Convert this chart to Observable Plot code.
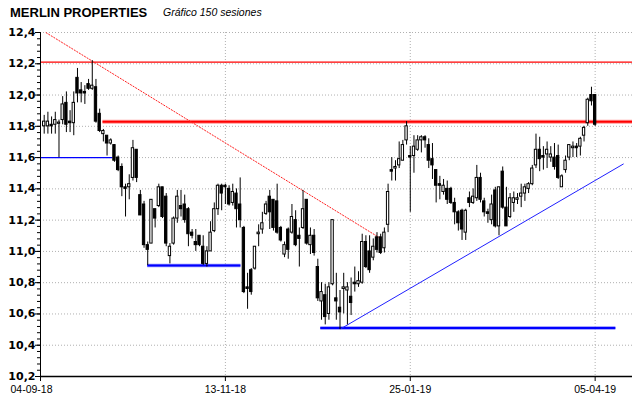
<!DOCTYPE html>
<html>
<head>
<meta charset="utf-8">
<script src="https://cdn.jsdelivr.net/npm/d3@7"></script>
<script src="https://cdn.jsdelivr.net/npm/@observablehq/plot@0.6"></script>
<style>
  html, body { margin: 0; padding: 0; background: #fff; }
  #chart { width: 640px; height: 398px; }
</style>
</head>
<body>
<div id="chart"></div>
<script>
// ---- data: 150 sessions (index 1..150) ----
const opens = [11.80,11.80,11.81,11.81,11.82,11.84,11.95,11.83,11.82,12.11,
12.03,12.02,12.07,12.04,12.05,11.88,11.75,11.74,11.69,11.68,
11.60,11.54,11.41,11.41,11.47,11.65,11.36,11.30,11.04,11.05,
11.27,11.29,11.41,11.35,10.97,11.05,11.21,11.29,11.30,11.27,
11.12,11.06,11.10,11.03,10.92,11.00,11.13,11.27,11.42,11.42,
11.40,11.31,11.37,11.30,11.15,10.77,10.88,10.89,11.11,11.14,
11.24,11.35,11.33,11.32,11.15,10.98,11.14,11.12,11.20,11.10,
11.15,11.33,11.04,11.10,10.90,10.68,10.72,10.60,10.79,10.70,
10.64,10.76,10.75,10.71,10.80,10.79,10.80,11.06,11.00,10.96,
11.09,11.09,11.02,11.17,11.52,11.53,11.55,11.58,11.71,11.61,
11.61,11.65,11.71,11.73,11.68,11.59,11.52,11.43,11.38,11.40,
11.40,11.31,11.25,11.26,11.12,11.34,11.31,11.34,11.47,11.32,
11.25,11.20,11.39,11.16,11.51,11.28,11.22,11.31,11.33,11.35,
11.37,11.40,11.43,11.55,11.65,11.61,11.62,11.60,11.60,11.61,
11.41,11.52,11.60,11.66,11.67,11.67,11.74,11.82,12.00,12.00];
const highs = [11.87,11.89,11.86,11.89,11.84,11.99,12.02,11.90,12.02,12.17,
12.08,12.06,12.10,12.22,12.10,11.91,11.78,11.74,11.72,11.68,
11.61,11.56,11.43,11.49,11.71,11.65,11.39,11.32,11.06,11.33,
11.27,11.43,11.41,11.37,11.05,11.22,11.39,11.39,11.36,11.28,
11.14,11.14,11.10,11.10,11.03,11.19,11.31,11.43,11.43,11.43,
11.42,11.43,11.40,11.47,11.16,10.86,10.89,11.03,11.17,11.25,
11.32,11.39,11.33,11.43,11.16,11.06,11.15,11.30,11.26,11.15,
11.39,11.33,11.15,11.14,10.95,10.80,10.79,10.80,11.20,10.86,
10.75,10.86,10.80,10.83,10.90,10.87,11.11,11.10,11.10,11.08,
11.12,11.11,11.15,11.43,11.60,11.58,11.70,11.71,11.83,11.67,
11.74,11.74,11.74,11.74,11.72,11.69,11.52,11.48,11.46,11.45,
11.41,11.34,11.26,11.27,11.27,11.38,11.40,11.55,11.50,11.34,
11.27,11.36,11.41,11.41,11.54,11.41,11.37,11.38,11.37,11.43,
11.43,11.44,11.55,11.75,11.73,11.67,11.70,11.67,11.69,11.68,
11.49,11.61,11.68,11.70,11.69,11.73,11.80,11.98,12.05,12.00];
const lows = [11.75,11.75,11.75,11.75,11.60,11.81,11.76,11.76,11.74,11.95,
11.95,11.94,12.03,12.03,11.82,11.76,11.70,11.61,11.68,11.57,
11.51,11.35,11.22,11.33,11.45,11.44,11.23,11.02,10.91,11.05,
11.15,11.28,11.21,11.03,10.92,11.04,11.18,11.22,11.18,11.03,
11.08,11.00,11.03,10.91,10.90,11.00,11.12,11.23,11.26,11.30,
11.29,11.29,11.15,11.15,10.73,10.63,10.72,10.88,11.03,11.11,
11.23,11.14,11.13,11.11,11.06,10.96,10.95,11.11,11.03,10.90,
11.14,11.04,10.98,10.97,10.68,10.56,10.53,10.56,10.78,10.56,
10.50,10.60,10.53,10.59,10.74,10.77,10.79,10.89,10.86,10.94,
10.99,10.98,10.99,11.12,11.45,11.45,11.53,11.58,11.68,11.25,
11.50,11.64,11.63,11.66,11.53,11.46,11.31,11.33,11.36,11.30,
11.30,11.17,11.13,11.07,11.07,11.28,11.30,11.32,11.31,11.22,
11.18,11.17,11.15,11.10,11.27,11.16,11.21,11.25,11.30,11.28,
11.32,11.37,11.42,11.53,11.51,11.52,11.53,11.57,11.52,11.46,
11.41,11.50,11.58,11.60,11.60,11.61,11.70,11.80,11.93,11.80];
const closes = [11.83,11.83,11.80,11.84,11.82,11.94,11.81,11.82,11.95,12.01,
12.01,12.01,12.04,12.06,11.83,11.77,11.77,11.69,11.71,11.58,
11.52,11.41,11.40,11.43,11.66,11.47,11.23,11.04,11.01,11.33,
11.21,11.41,11.22,11.05,11.03,11.21,11.35,11.27,11.20,11.11,
11.10,11.04,11.04,10.92,11.00,11.12,11.27,11.42,11.37,11.41,
11.30,11.38,11.27,11.20,10.74,10.76,10.74,11.03,11.12,11.18,
11.30,11.25,11.15,11.12,11.07,11.04,11.01,11.22,11.04,11.08,
11.27,11.05,11.10,10.99,10.70,10.74,10.58,10.77,11.20,10.68,
10.61,10.77,10.77,10.67,10.79,10.81,11.06,10.90,10.88,11.03,
11.01,10.99,11.12,11.38,11.51,11.54,11.59,11.68,11.80,11.60,
11.67,11.71,11.73,11.71,11.58,11.55,11.42,11.42,11.42,11.33,
11.31,11.25,11.18,11.14,11.26,11.31,11.35,11.47,11.33,11.25,
11.24,11.30,11.16,11.41,11.28,11.16,11.34,11.34,11.34,11.37,
11.41,11.43,11.53,11.65,11.59,11.60,11.65,11.62,11.54,11.47,
11.48,11.58,11.68,11.67,11.66,11.72,11.79,11.97,11.96,11.81];

const dateTickIdx = [0, 50, 100, 150];
const dateTickLabels = ["04-09-18", "13-11-18", "25-01-19", "05-04-19"];
const priceTicks = [10.2, 10.4, 10.6, 10.8, 11.0, 11.2, 11.4, 11.6, 11.8, 12.0, 12.2, 12.4];

// analysis lines (session index, price)
const redLevels   = [{p: 12.21, a: 0, b: 160.1}];
const redThick    = [{p: 11.83, a: 16.9, b: 160.1}];
const blueThin    = [{p: 11.60, a: 0, b: 19.5}];
const blueThick   = [{p: 10.91, a: 29, b: 54.2}, {p: 10.51, a: 75.8, b: 155.6}];
const downTrend   = [{x1: 1.43, y1: 12.40, x2: 91.5, y2: 11.09}];
const upTrend     = [{x1: 81.2, y1: 10.505, x2: 157.7, y2: 11.56}];

const candles = opens.map((o, k) => {
  const c = closes[k];
  let lo = Math.min(o, c), hi = Math.max(o, c);
  if (hi - lo < 0.008) { const m = (hi + lo) / 2; lo = m - 0.004; hi = m + 0.004; }
  return {i: k + 1, o, h: highs[k], l: lows[k], c, lo, hi, up: c >= o};
});

const minorTicks = d3.range(0, 56).map(k => +(10.2 + k * 0.04).toFixed(2));
const fmt = d => d.toFixed(1).replace(".", ",");
const dateFmt = d => dateTickLabels[dateTickIdx.indexOf(d)];

const chart = Plot.plot({
  width: 640,
  height: 398,
  marginLeft: 40,
  marginRight: 8,
  marginTop: 32,
  marginBottom: 22,
  x: {domain: [0, 160.1]},
  y: {domain: [10.2, 12.4]},
  style: {background: "#fff", overflow: "visible"},
  marks: [
    Plot.gridY(priceTicks, {stroke: "#b0b0b0", strokeOpacity: 1, strokeDasharray: "1,2"}),
    Plot.gridX([50, 100, 150], {stroke: "#b0b0b0", strokeOpacity: 1, strokeDasharray: "1,2"}),
    // levels
    Plot.ruleY(redLevels, {y: "p", x1: "a", x2: "b", stroke: "#ff0000", strokeWidth: 1.2}),
    Plot.ruleY(redThick, {y: "p", x1: "a", x2: "b", stroke: "#ff9a9a", strokeWidth: 4}),
    Plot.ruleY(redThick, {y: "p", x1: "a", x2: "b", stroke: "#ff0000", strokeWidth: 2}),
    Plot.ruleY(blueThin, {y: "p", x1: "a", x2: "b", stroke: "#0000ff", strokeWidth: 1.3}),
    Plot.ruleY(blueThick, {y: "p", x1: "a", x2: "b", stroke: "#8c8cff", strokeWidth: 3.5}),
    Plot.ruleY(blueThick, {y: "p", x1: "a", x2: "b", stroke: "#0000ff", strokeWidth: 2}),
    Plot.link(downTrend, {x1: "x1", y1: "y1", x2: "x2", y2: "y2", stroke: "#ff2020", strokeWidth: 1, strokeDasharray: "2,1"}),
    Plot.link(upTrend, {x1: "x1", y1: "y1", x2: "x2", y2: "y2", stroke: "#2020ff", strokeWidth: 1}),
    // candles
    Plot.ruleX(candles, {x: "i", y1: "l", y2: "h", stroke: "#000", strokeWidth: 1}),
    Plot.rect(candles, {
      x1: d => d.i - 0.45, x2: d => d.i + 0.45, y1: "lo", y2: "hi",
      fill: d => d.up ? "#fff" : "#000", stroke: "#000", strokeWidth: 1,
      insetLeft: 0.5, insetRight: 0.5
    }),
    // axes
    Plot.axisY(minorTicks, {tickSize: 3, tickFormat: () => "", stroke: "#000"}),
    Plot.axisY(priceTicks, {tickSize: 5, tickPadding: 0, tickFormat: fmt,
      fontSize: 11, fontWeight: "bold", fontFamily: "DejaVu Sans", fill: "#000", stroke: "#000"}),
    Plot.axisX(dateTickIdx, {tickSize: 5, tickFormat: () => "", stroke: "#000"}),
    Plot.axisX(dateTickIdx.slice(1), {tickSize: 0, tickPadding: 9, tickFormat: dateFmt,
      fontSize: 10.5, fontFamily: "Liberation Sans", fill: "#000"}),
    Plot.axisX(dateTickIdx.slice(0, 1), {tickSize: 0, tickPadding: 9, tickFormat: dateFmt, dx: -9,
      fontSize: 10.5, fontFamily: "Liberation Sans", fill: "#000"}),
    Plot.ruleX([0], {stroke: "#000", strokeWidth: 1}),
    Plot.ruleY([10.2], {stroke: "#000", strokeWidth: 1.5})
  ]
});

const svg = d3.select(chart);
svg.append("text").attr("x", 10).attr("y", 17)
  .attr("text-anchor", "start")
  .attr("font-family", "Liberation Sans, Arial, sans-serif")
  .attr("font-weight", "bold").attr("font-size", 13).attr("fill", "#000")
  .text("MERLIN PROPERTIES");
svg.append("text").attr("x", 163).attr("y", 16)
  .attr("text-anchor", "start")
  .attr("font-family", "Liberation Sans, Arial, sans-serif")
  .attr("font-style", "italic").attr("font-size", 10.5).attr("fill", "#000")
  .text("Gráfico 150 sesiones");

document.getElementById("chart").appendChild(chart);
</script>
</body>
</html>
